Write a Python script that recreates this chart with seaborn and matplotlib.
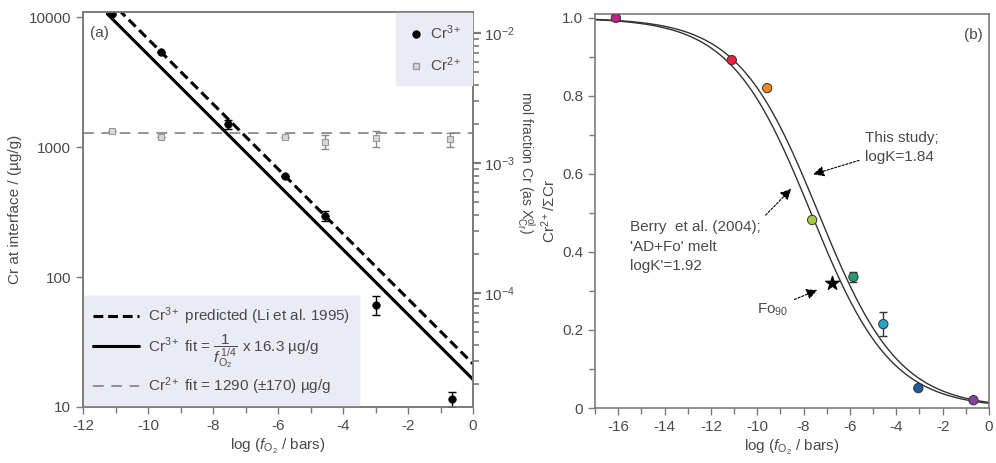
import numpy as np
import pandas as pd
import matplotlib
matplotlib.use("Agg")
import matplotlib.pyplot as plt
import seaborn as sns
from matplotlib.lines import Line2D
from matplotlib.ticker import LogLocator, MultipleLocator, FixedLocator, NullFormatter, FixedFormatter

# ---------------- data: panel (a) ----------------
logfo2_cr3 = [-11.1, -9.6, -7.55, -5.8, -4.55, -3.0, -0.65]
cr3_conc = [10500, 5400, 1500, 600, 295, 61, 11.5]
cr3_err = [0, 0, 120, 0, 27, 10, 1.5]
logfo2_cr2 = [-11.1, -9.6, -5.8, -4.55, -3.0, -0.7]
cr2_conc = [1320, 1190, 1190, 1100, 1170, 1150]
cr2_err = [0, 0, 0, 140, 165, 140]
cr3_fit_coef = 16.3      # µg/g, fit = coef * fO2^(-1/4)
cr3_pred_coef = 21.5     # Li et al. 1995 prediction
cr2_fit_value = 1290
fit_range = [-11.25, 0.0]
mol_frac_factor = 10 ** -5.877   # conversion µg/g -> mol fraction (right axis)

# ---------------- data: panel (b) ----------------
logfo2_b = [-16.1, -11.1, -9.57, -7.63, -5.85, -4.56, -3.05, -0.67]
cr2_frac = [1.0, 0.892, 0.82, 0.482, 0.336, 0.215, 0.051, 0.02]
cr2_frac_err = [0, 0, 0, 0, 0.012, 0.03, 0, 0]
point_colors = ['#c01f86', '#e8203c', '#f0861e', '#a9c93a', '#1d9f70',
                '#21a3cb', '#1d5d9f', '#8a3fa3']
fo90_x, fo90_y = -6.76, 0.32
logK_this = 1.84
logK_berry = 1.92

# ---------------- style ----------------
sns.set_theme(style="ticks")
plt.rcParams['font.family'] = ['Liberation Sans', 'DejaVu Sans']
plt.rcParams['axes.unicode_minus'] = False
txt = '#4a4a4a'
spine_c = '#7a7a7a'
FS = 11
plt.rcParams.update({'text.color': txt, 'axes.labelcolor': txt,
                     'xtick.color': spine_c, 'ytick.color': spine_c,
                     'xtick.labelcolor': txt, 'ytick.labelcolor': txt,
                     'font.size': FS, 'axes.labelsize': FS,
                     'xtick.labelsize': FS, 'ytick.labelsize': FS,
                     'mathtext.fontset': 'custom',
                     'mathtext.rm': 'Liberation Sans',
                     'mathtext.it': 'Liberation Sans:italic',
                     'mathtext.bf': 'Liberation Sans:bold'})

fig = plt.figure(figsize=(9.96, 4.63), dpi=100)
W, H = 996, 463
ax1 = fig.add_axes([83 / W, 1 - 407 / H, (473 - 83) / W, (407 - 12) / H])
ax3 = fig.add_axes([595 / W, 1 - 408 / H, (989 - 595) / W, (408 - 14) / H])

# ================= panel (a) =================
df3 = pd.DataFrame({'x': logfo2_cr3, 'y': cr3_conc, 'e': cr3_err})
df2 = pd.DataFrame({'x': logfo2_cr2, 'y': cr2_conc, 'e': cr2_err})

ax1.set_yscale('log')
xf = np.linspace(fit_range[0], fit_range[1], 100)
fit_df = pd.DataFrame({'x': xf,
                       'fit': cr3_fit_coef * 10 ** (-xf / 4),
                       'pred': cr3_pred_coef * 10 ** (-xf / 4)})
sns.lineplot(data=fit_df, x='x', y='pred', ax=ax1, color='black', lw=2.2,
             linestyle=(0, (3.2, 1.6)))
sns.lineplot(data=fit_df, x='x', y='fit', ax=ax1, color='black', lw=2.2)
ax1.axhline(cr2_fit_value, color='#777777', lw=1.1, linestyle=(0, (7, 5)))

ax1.errorbar(df2['x'], df2['y'], yerr=df2['e'], fmt='none', ecolor='#8a8a8a',
             elinewidth=1, capsize=3, zorder=3)
sns.scatterplot(data=df2, x='x', y='y', ax=ax1, marker='s', s=22,
                color='#d8d8d8', edgecolor='#9a9a9a', linewidth=0.8, zorder=4)
ax1.errorbar(df3['x'], df3['y'], yerr=df3['e'], fmt='none', ecolor='black',
             elinewidth=1, capsize=3, zorder=5)
sns.scatterplot(data=df3, x='x', y='y', ax=ax1, marker='o', s=30,
                color='black', edgecolor='black', zorder=6)

ax1.set_xlim(-12, 0)
ax1.set_ylim(10, 10 ** 4.04)
ax1.xaxis.set_major_locator(MultipleLocator(2))
ax1.xaxis.set_minor_locator(MultipleLocator(1))
ax1.yaxis.set_major_locator(FixedLocator([10, 100, 1000, 10000]))
ax1.yaxis.set_major_formatter(FixedFormatter(['10', '100', '1000', '10000']))
ax1.yaxis.set_minor_locator(FixedLocator([]))
ax1.set_xlabel(r'log ($f_{\rm O_2}$ / bars)', labelpad=3)
ax1.set_ylabel('Cr at interface / (µg/g)', labelpad=5)
ax1.text(0.018, 0.965, '(a)', transform=ax1.transAxes, ha='left', va='top')

ax2 = ax1.twinx()
ax2.set_yscale('log')
ax2.set_ylim(10 * mol_frac_factor, 10 ** 4.04 * mol_frac_factor)
ax2.yaxis.set_major_locator(FixedLocator([1e-4, 1e-3, 1e-2]))
ax2.yaxis.set_major_formatter(FixedFormatter([r'10$^{-4}$', r'10$^{-3}$', r'10$^{-2}$']))
ax2.yaxis.set_minor_locator(LogLocator(base=10, subs=np.arange(2, 10), numticks=20))
ax2.yaxis.set_minor_formatter(NullFormatter())
ax2.set_ylabel(r'mol fraction Cr (as X$^{\rm ol}_{\rm Cr}$)', rotation=270,
               labelpad=16, fontsize=10)
ax2.yaxis.set_label_coords(1.165, 0.62)
ax2.tick_params(axis='y', which='major', length=6, width=1.6, pad=2)
ax2.tick_params(axis='y', which='minor', length=4, width=1.2)

for a in (ax1, ax2, ax3):
    for s in a.spines.values():
        s.set_color(spine_c)
        s.set_linewidth(1.2)
ax1.tick_params(axis='both', which='major', length=5, width=1)
ax1.tick_params(axis='x', which='minor', length=4, width=1)

# legends for panel (a)
h_pts = [Line2D([], [], marker='o', color='black', ls='none', markersize=5),
         Line2D([], [], marker='s', color='#d8d8d8', markeredgecolor='#9a9a9a', ls='none', markersize=5)]
leg1 = ax2.legend(h_pts, [r'Cr$^{3+}$', r'Cr$^{2+}$'], loc='upper right',
                  frameon=True, fancybox=False, borderaxespad=0.05,
                  handletextpad=0.3, labelspacing=0.9, borderpad=0.7,
                  handlelength=1.2, fontsize=FS)
leg1.get_frame().set_facecolor('#ebebf6')
leg1.get_frame().set_edgecolor('#ebebf6')
leg1.get_frame().set_alpha(1)

h_lines = [Line2D([], [], color='black', lw=2.2, ls=(0, (3.2, 1.6))),
           Line2D([], [], color='black', lw=2.2),
           Line2D([], [], color='#777777', lw=1.1, ls=(0, (7, 5)))]
labs = [r'Cr$^{3+}$ predicted (Li et al. 1995)',
        r'Cr$^{3+}$ fit = $\dfrac{1}{f_{\rm O_2}^{\,1/4}}$ x 16.3 µg/g',
        r'Cr$^{2+}$ fit = 1290 (±170) µg/g']
leg2 = ax1.legend(h_lines, labs, loc='lower left', frameon=True, fancybox=False,
                  borderaxespad=0.05, handlelength=3.0, handletextpad=0.6,
                  labelspacing=0.35, borderpad=0.6, fontsize=FS)
leg2.get_frame().set_facecolor('#ebebf6')
leg2.get_frame().set_edgecolor('#ebebf6')
leg2.get_frame().set_alpha(1)
ax1.add_artist(leg2)

# ================= panel (b) =================
xc = np.linspace(-17, 0, 300)
curve_df = pd.DataFrame({
    'x': np.concatenate([xc, xc]),
    'y': np.concatenate([1 / (1 + 10 ** (logK_this + xc / 4)),
                         1 / (1 + 10 ** (logK_berry + xc / 4))]),
    'model': ['this'] * len(xc) + ['berry'] * len(xc)})
sns.lineplot(data=curve_df, x='x', y='y', hue='model', ax=ax3,
             palette={'this': '#333333', 'berry': '#333333'}, lw=1.0, legend=False)

dfb = pd.DataFrame({'x': logfo2_b, 'y': cr2_frac, 'e': cr2_frac_err, 'c': point_colors})
ax3.errorbar(dfb['x'], dfb['y'], yerr=dfb['e'], fmt='none', ecolor='#333333',
             elinewidth=1, capsize=3, zorder=3)
sns.scatterplot(data=dfb, x='x', y='y', hue='c', palette=dict(zip(point_colors, point_colors)),
                ax=ax3, s=45, edgecolor='#333333', linewidth=0.7, legend=False, zorder=5)
sns.scatterplot(x=[fo90_x], y=[fo90_y], ax=ax3, marker='*', s=110, color='black',
                edgecolor='black', zorder=6)

ax3.set_xlim(-17, 0)
ax3.set_ylim(0, 1.01)
ax3.xaxis.set_major_locator(MultipleLocator(2))
ax3.xaxis.set_minor_locator(MultipleLocator(1))
ax3.yaxis.set_major_locator(FixedLocator([0, 0.2, 0.4, 0.6, 0.8, 1.0]))
ax3.yaxis.set_major_formatter(FixedFormatter(['0', '0.2', '0.4', '0.6', '0.8', '1.0']))
ax3.yaxis.set_minor_locator(MultipleLocator(0.1))
ax3.tick_params(axis='both', which='major', length=5, width=1)
ax3.tick_params(axis='both', which='minor', length=4, width=1)
ax3.set_xlabel(r'log ($f_{\rm O_2}$ / bars)', labelpad=3)
ax3.set_ylabel(r'Cr$^{2+}$/ΣCr', labelpad=3)
ax3.text(0.985, 0.965, '(b)', transform=ax3.transAxes, ha='right', va='top')

arrow_kw = dict(arrowstyle='-|>', color='black', lw=0.8, linestyle=(0, (2, 1.5)),
                mutation_scale=16)
ax3.annotate('This study;\nlogK=1.84', xy=(-7.7, 0.597), xytext=(-5.35, 0.625),
             ha='left', va='bottom', linespacing=1.5, arrowprops=arrow_kw)
ax3.annotate("Berry  et al. (2004);\n'AD+Fo' melt\nlogK'=1.92", xy=(-8.45, 0.567),
             xytext=(-15.5, 0.345), ha='left', va='bottom', linespacing=1.5,
             arrowprops=dict(arrow_kw, relpos=(1.0, 1.0)))
ax3.annotate(r'Fo$_{90}$', xy=(-7.3, 0.305), xytext=(-10.0, 0.23),
             ha='left', va='bottom', arrowprops=dict(arrow_kw, relpos=(1.0, 1.0)))

fig.savefig('out.png', dpi=100)
